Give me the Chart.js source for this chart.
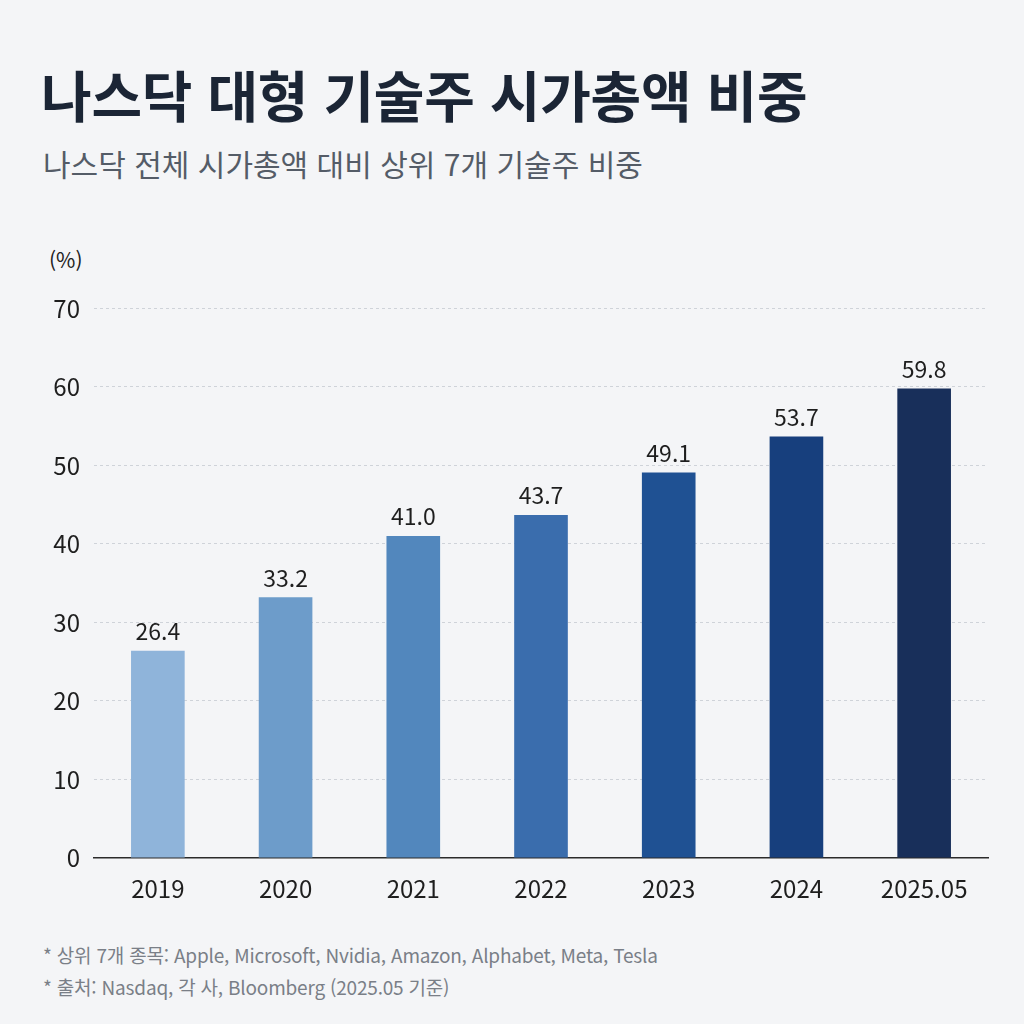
<!DOCTYPE html>
<html lang="ko">
<head>
<meta charset="utf-8">
<script src="https://cdn.jsdelivr.net/npm/chart.js@4"></script>
<style>
  html, body { margin: 0; padding: 0; }
  body {
    width: 1024px; height: 1024px; position: relative; overflow: hidden;
    background: #f4f5f7;
    font-family: "Noto Sans CJK KR", "Noto Sans", sans-serif;
  }
  #title {
    position: absolute; left: 41px; top: 53px; margin: 0;
    font-size: 55px; font-weight: 700; color: #1b2535; letter-spacing: -0.2px;
  }
  #subtitle {
    position: absolute; left: 43px; top: 141px; margin: 0;
    font-size: 30px; font-weight: 400; color: #545c67;
  }
  #unit {
    position: absolute; left: 49px; top: 244px;
    font-size: 21px; color: #222;
  }
  #chartBox {
    position: absolute; left: 0; top: 280px; width: 1024px; height: 630px;
  }
  .note {
    position: absolute; left: 43px; font-size: 19px; color: #7a7f87; letter-spacing: -0.2px;
  }
</style>
</head>
<body>
<h1 id="title">나스닥 대형 기술주 시가총액 비중</h1>
<h2 id="subtitle">나스닥 전체 시가총액 대비 상위 7개 기술주 비중</h2>
<div id="unit">(%)</div>
<div id="chartBox"><canvas id="myChart"></canvas></div>
<div class="note" style="top:941px">* 상위 7개 종목: Apple, Microsoft, Nvidia, Amazon, Alphabet, Meta, Tesla</div>
<div class="note" style="top:973px">* 출처: Nasdaq, 각 사, Bloomberg (2025.05 기준)</div>

<script>
// data
const years = ['2019', '2020', '2021', '2022', '2023', '2024', '2025.05'];
const shares = [26.4, 33.2, 41.0, 43.7, 49.1, 53.7, 59.8];
const barColors = ['#8fb4da', '#6d9cca', '#5287bd', '#3a6dad', '#1f5193', '#173f7d', '#182f5a'];
const yTicks = [0, 10, 20, 30, 40, 50, 60, 70];

const fontFamily = '"Noto Sans CJK KR", "Noto Sans", sans-serif';

// value labels above bars
const valueLabels = {
    id: 'valueLabels',
    afterDatasetsDraw(chart) {
        const ctx = chart.ctx;
        const meta = chart.getDatasetMeta(0);
        ctx.save();
        ctx.font = '23px ' + fontFamily;
        ctx.fillStyle = '#1e1e1e';
        ctx.textAlign = 'center';
        ctx.textBaseline = 'bottom';
        meta.data.forEach((bar, i) => {
            ctx.fillText(shares[i].toFixed(1), bar.x, bar.y - 8);
        });
        ctx.restore();
    }
};

const config = {
    type: 'bar',
    data: {
        labels: years,
        datasets: [{
            data: shares,
            backgroundColor: barColors,
            borderWidth: 0,
            categoryPercentage: 1,
            barPercentage: 0.42
        }]
    },
    options: {
        responsive: true,
        maintainAspectRatio: false,
        animation: false,
        layout: { padding: { top: 21, right: 36, left: 0, bottom: 0 } },
        plugins: {
            legend: { display: false },
            tooltip: { enabled: false }
        },
        scales: {
            x: {
                grid: { display: false },
                border: { display: true, color: '#2b2b2b', width: 1.5 },
                ticks: {
                    color: '#1e1e1e',
                    font: { family: fontFamily, size: 24 },
                    padding: 8
                },
                afterFit(scale) { scale.height = 52; }
            },
            y: {
                min: 0,
                max: 70,
                afterBuildTicks(scale) { scale.ticks = yTicks.map(v => ({ value: v })); },
                grid: {
                    color: ctx => ctx.tick && ctx.tick.value === 0 ? 'rgba(0,0,0,0)' : '#cfd3d9',
                    lineWidth: 1,
                    drawTicks: false
                },
                border: { display: false, dash: [3, 3] },
                ticks: {
                    color: '#1e1e1e',
                    font: { family: fontFamily, size: 24 },
                    padding: 14
                },
                afterFit(scale) { scale.width = 94; }
            }
        }
    },
    plugins: [valueLabels]
};

const myChart = new Chart(document.getElementById('myChart'), config);
</script>
</body>
</html>
